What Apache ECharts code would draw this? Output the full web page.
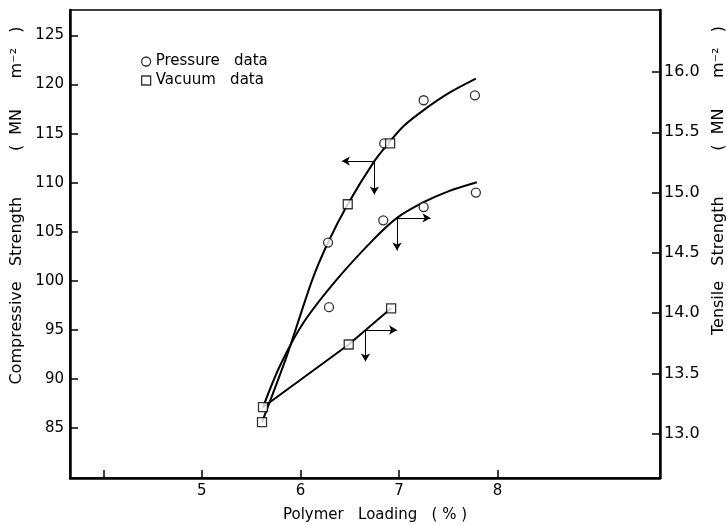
<!DOCTYPE html>
<html><head><meta charset="utf-8">
<script src="https://cdn.jsdelivr.net/npm/echarts@6/dist/echarts.min.js"></script>
<style>html,body{margin:0;padding:0;background:#fff}#c{width:727px;height:525px}</style>
</head><body><div id="c"></div>
<script>
// tick values
const xTicks = [4, 5, 6, 7, 8];
const xLabels = [5, 6, 7, 8];
const compTicks = [85, 90, 95, 100, 105, 110, 115, 120, 125];
const tensTicks = [13.0, 13.5, 14.0, 14.5, 15.0, 15.5, 16.0];

// measured points
const pressureCompX = [6.28, 6.85, 7.25, 7.77];
const pressureCompY = [103.9, 114.0, 118.4, 118.9];
const pressureTensX = [6.29, 6.84, 7.25, 7.78];
const pressureTensY = [14.05, 14.77, 14.88, 15.00];
const vacuumCompX = [5.61, 6.48, 6.91];
const vacuumCompY = [85.6, 107.8, 114.0];
const vacuumTensX = [5.62, 6.49, 6.92];
const vacuumTensY = [13.22, 13.74, 14.04];

// fitted curves
const compCurveX = [5.61, 5.86, 6.12, 6.28, 6.48, 6.75, 6.9, 7.05, 7.25, 7.5, 7.78];
const compCurveY = [85.6, 92.3, 100.1, 103.9, 107.8, 112.2, 114.1, 115.8, 117.4, 119.1, 120.6];
const tensCurveX = [5.62, 5.79, 6.03, 6.37, 6.74, 6.98, 7.25, 7.5, 7.79];
const tensCurveY = [13.22, 13.56, 13.92, 14.28, 14.61, 14.79, 14.92, 15.01, 15.085];
const vacLineX = [5.62, 6.49, 6.92];
const vacLineY = [13.22, 13.74, 14.04];

// axis-indicator arrows: [fromX, fromY, toX, toY]
const compArrows = [[6.75, 112.2, 6.42, 112.2], [6.75, 112.2, 6.75, 108.8]];
const tensArrows = [[6.98, 14.79, 7.32, 14.79], [6.98, 14.79, 6.98, 14.52]];
const vacArrows = [[6.66, 13.86, 6.98, 13.86], [6.66, 13.86, 6.66, 13.60]];

const zip = (xs, ys) => xs.map((x, i) => [x, ys[i]]);
const arrowData = a => a.map(r => [{coord: [r[0], r[1]]}, {coord: [r[2], r[3]]}]);
const mk = a => ({
  silent: true, symbol: ['none', 'arrow'], symbolSize: [7, 8], animation: false,
  lineStyle: {color: '#000', width: 1, type: 'solid'}, label: {show: false},
  emphasis: {disabled: true}, data: arrowData(a)
});

const FONT = 'DejaVu Sans';
const markerStyle = {color: '#fff', borderColor: '#000', borderWidth: 1.3};
const lineStyle = {color: '#000', width: 2};
const sp = n => ' '.repeat(n);
const yNameLeft = 'Compressive' + sp(3) + 'Strength' + sp(9) + '(' + sp(2) + 'MN' + sp(6) + 'm⁻²' + sp(3) + ')';
const yNameRight = 'Tensile' + sp(3) + 'Strength' + sp(9) + '(' + sp(2) + 'MN' + sp(6) + 'm⁻²' + sp(3) + ')';

const chart = echarts.init(document.getElementById('c'));
chart.setOption({
  animation: false,
  backgroundColor: '#fff',
  textStyle: {fontFamily: FONT, color: '#000'},
  grid: {left: 70, right: 67, top: 10, bottom: 47, containLabel: false, outerBoundsMode: 'none',
    show: true, borderColor: '#000', borderWidth: 1.5, backgroundColor: 'transparent'},
  legend: {
    orient: 'vertical', left: 136, top: 49, itemGap: 4, itemWidth: 9, itemHeight: 9,
    textStyle: {fontFamily: FONT, fontSize: 15, color: '#000'},
    itemStyle: markerStyle,
    data: [{name: 'Pressure   data', icon: 'circle'}, {name: 'Vacuum   data', icon: 'rect'}]
  },
  xAxis: {
    type: 'value', min: 3.662, max: 9.648,
    name: 'Polymer   Loading   ( % )', nameLocation: 'middle', nameGap: 30,
    nameTextStyle: {fontFamily: FONT, fontSize: 15, color: '#000', padding: [0, 0, 0, 20]},
    axisLine: {lineStyle: {color: '#000', width: 2.5}},
    axisTick: {inside: true, length: 8, customValues: xTicks, lineStyle: {color: '#000', width: 1.5}},
    axisLabel: {customValues: xLabels, color: '#000', fontFamily: FONT, fontSize: 15, margin: 6},
    splitLine: {show: false}
  },
  yAxis: [{
    type: 'value', min: 79.9, max: 127.6, position: 'left',
    name: yNameLeft, nameLocation: 'middle', nameGap: 40, nameRotate: 90,
    nameTextStyle: {fontFamily: FONT, fontSize: 16, color: '#000', padding: [0, 0, 0, 77]},
    axisLine: {show: true, lineStyle: {color: '#000', width: 2.5}},
    axisTick: {inside: true, length: 8, customValues: compTicks, lineStyle: {color: '#000', width: 1.5}},
    axisLabel: {customValues: compTicks, color: '#000', fontFamily: FONT, fontSize: 15, margin: 6},
    splitLine: {show: false}
  }, {
    type: 'value', min: 12.633, max: 16.514, position: 'right',
    name: yNameRight, nameLocation: 'middle', nameGap: 49, nameRotate: 90,
    nameTextStyle: {fontFamily: FONT, fontSize: 16, color: '#000', padding: [0, 0, 0, 127]},
    axisLine: {show: true, lineStyle: {color: '#000', width: 2.5}},
    axisTick: {inside: true, length: 8, customValues: tensTicks, lineStyle: {color: '#000', width: 1.5}},
    axisLabel: {customValues: tensTicks, color: '#000', fontFamily: FONT, fontSize: 16, margin: 4,
      formatter: v => Number(v).toFixed(1)},
    splitLine: {show: false}
  }],
  series: [
    {type: 'line', name: 'compCurve', yAxisIndex: 0, data: zip(compCurveX, compCurveY), smooth: 0.3,
      showSymbol: false, lineStyle: lineStyle, z: 2, silent: true, markLine: mk(compArrows)},
    {type: 'line', name: 'tensCurve', yAxisIndex: 1, data: zip(tensCurveX, tensCurveY), smooth: 0.3,
      showSymbol: false, lineStyle: lineStyle, z: 2, silent: true, markLine: mk(tensArrows)},
    {type: 'line', name: 'vacLine', yAxisIndex: 1, data: zip(vacLineX, vacLineY), smooth: false,
      showSymbol: false, lineStyle: lineStyle, z: 2, silent: true, markLine: mk(vacArrows)},
    {type: 'scatter', name: 'Pressure   data', yAxisIndex: 0, data: zip(pressureCompX, pressureCompY), symbol: 'circle', symbolSize: 9, itemStyle: markerStyle, z: 3},
    {type: 'scatter', name: 'Pressure   data', yAxisIndex: 1, data: zip(pressureTensX, pressureTensY), symbol: 'circle', symbolSize: 9, itemStyle: markerStyle, z: 3},
    {type: 'scatter', name: 'Vacuum   data', yAxisIndex: 0, data: zip(vacuumCompX, vacuumCompY), symbol: 'rect', symbolSize: 9, itemStyle: markerStyle, z: 3},
    {type: 'scatter', name: 'Vacuum   data', yAxisIndex: 1, data: zip(vacuumTensX, vacuumTensY), symbol: 'rect', symbolSize: 9, itemStyle: markerStyle, z: 3}
  ]
});
</script></body></html>
